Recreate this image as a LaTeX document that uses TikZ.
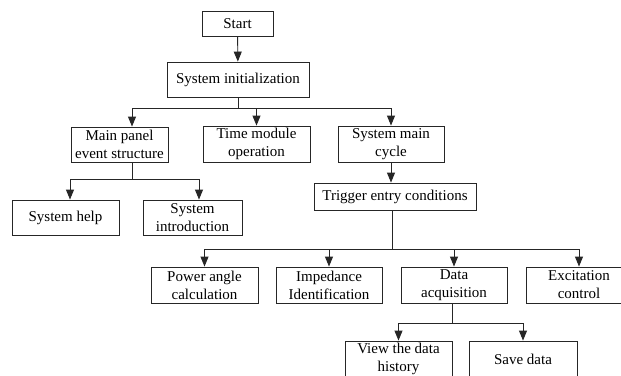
\documentclass[tikz,border=0pt]{standalone}
\usepackage{fontspec}
\setmainfont{Liberation Serif}
\usetikzlibrary{arrows.meta}
\begin{document}
\begin{tikzpicture}[x=1pt,y=-1pt,
  box/.style={draw=black!85, line width=0.9pt, align=center, inner sep=0pt,
    font=\fontsize{15}{18}\selectfont},
  conn/.style={draw=black!85, line width=0.9pt},
  arr/.style={conn, -{Triangle[length=10pt,width=8pt]}}]
\useasboundingbox[fill=white] (0,0) rectangle (621,375);
\clip (0,0) rectangle (621,375);

\node[box, minimum width=71pt, minimum height=25pt] (start) at (237.5,23.5) {Start};
\node[box, minimum width=142pt, minimum height=35pt] (init) at (238,79.5) {System initialization};
\node[box, minimum width=97pt, minimum height=35pt] (main) at (119.5,144.5) {Main panel\\event structure};
\node[box, minimum width=107pt, minimum height=36pt] (time) at (256.5,144) {Time module\\operation};
\node[box, minimum width=106pt, minimum height=36pt] (smc) at (391,144) {System main\\cycle};
\node[box, minimum width=162pt, minimum height=27pt] (trig) at (395,196.5) {Trigger entry conditions};
\node[box, minimum width=107pt, minimum height=35pt] (help) at (65.5,217.5) {System help};
\node[box, minimum width=99pt, minimum height=35pt] (intro) at (192.5,217.5) {System\\introduction};
\node[box, minimum width=107pt, minimum height=36pt] (power) at (204.5,285) {Power angle\\calculation};
\node[box, minimum width=106pt, minimum height=36pt] (imp) at (329,285) {Impedance\\Identification};
\node[box, minimum width=106pt, minimum height=36pt] (daq) at (454,285) {Data\\acquisition};
\node[box, minimum width=106pt, minimum height=36pt] (exc) at (579,285) {Excitation\\control};
\node[box, minimum width=107pt, minimum height=36pt] (view) at (398.5,359) {View the data\\history};
\node[box, minimum width=108pt, minimum height=36pt] (save) at (523,359) {Save data};

\draw[arr] (start) -- (init);

\draw[conn] (init.south) -- ++(0,11) coordinate (j1);
\draw[arr] (j1) -| ([xshift=12.5pt]main.north);
\draw[arr] (j1) -| (smc.north);
\draw[arr] (time.north |- j1) -- (time.north);

\draw[conn] ([xshift=12.5pt]main.south) -- ++(0,17) coordinate (j2);
\draw[arr] (j2) -| ([xshift=4.5pt]help.north);
\draw[arr] (j2) -| ([xshift=6.5pt]intro.north);

\draw[arr] (smc.south) -- (smc.south |- trig.north);
\draw[conn] ([xshift=1pt]smc.south |- trig.south) -- ++(0,39) coordinate (j3);
\draw[arr] (j3) -| (power.north);
\draw[arr] (j3) -| (exc.north);
\draw[arr] (imp.north |- j3) -- (imp.north);
\draw[arr] (daq.north |- j3) -- (daq.north);

\draw[conn] ([xshift=-2pt]daq.south) -- ++(0,20) coordinate (j4);
\draw[arr] (j4) -| (view.north);
\draw[arr] (j4) -| (save.north);
\end{tikzpicture}
\end{document}
